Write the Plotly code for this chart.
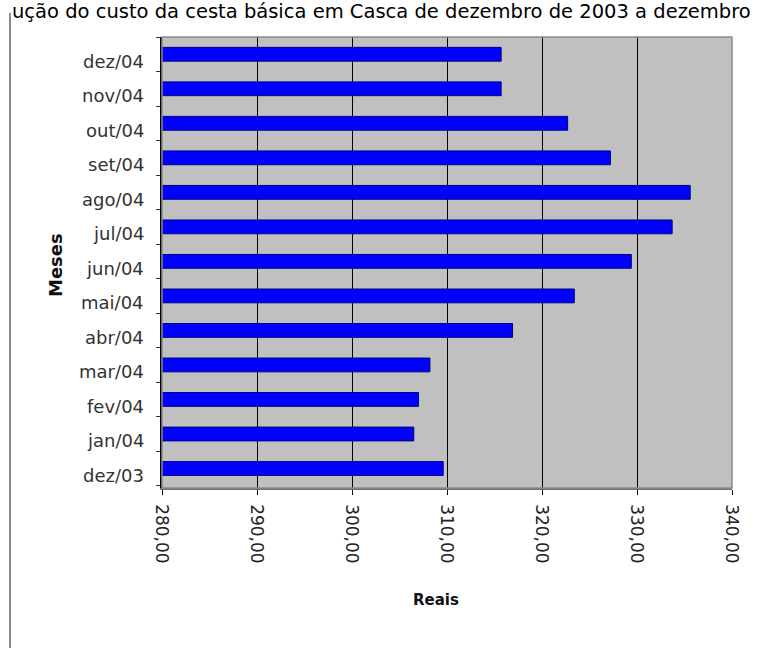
import plotly.graph_objects as go

# Monthly cost of the basic food basket (R$), Dec/2003 - Dec/2004
meses = ["dez/03", "jan/04", "fev/04", "mar/04", "abr/04", "mai/04", "jun/04",
         "jul/04", "ago/04", "set/04", "out/04", "nov/04", "dez/04"]
custo = [309.6, 306.5, 307.0, 308.2, 316.9, 323.4, 329.4,
         333.7, 335.6, 327.2, 322.7, 315.7, 315.7]
x_ticks = [280, 290, 300, 310, 320, 330, 340]
x_tick_text = ["280,00", "290,00", "300,00", "310,00", "320,00", "330,00", "340,00"]
titulo = "ução do custo da cesta básica em Casca de dezembro de 2003 a dezembro"

W, H = 769, 648
L, R, T, B = 162, 37, 37, 160
PW, PH = W - L - R, H - T - B


def px_x(px):
    return (px - L) / PW


def px_y(py):
    return (H - B - py) / PH


fig = go.Figure()
fig.add_trace(go.Bar(
    x=custo, y=meses, orientation="h",
    marker=dict(color="#0000FF", line=dict(color="#000080", width=1)),
    width=0.4, hoverinfo="x+y",
))

# month labels sit slightly below each bar
annotations = []
for m in meses:
    annotations.append(dict(
        x=px_x(146), xref="paper", y=m, yref="y", text=m, showarrow=False,
        xanchor="right", yanchor="middle", yshift=-7,
        font=dict(family="DejaVu Sans", size=18, color="#333333"),
    ))

annotations += [
    dict(text=titulo,
         x=px_x(381), xref="paper", y=px_y(11), yref="paper",
         showarrow=False, xanchor="center", yanchor="middle",
         font=dict(family="DejaVu Sans", size=19.5, color="#000000")),
    dict(text="<b>Meses</b>", textangle=-90, x=px_x(55), xref="paper",
         y=px_y(265), yref="paper", showarrow=False,
         xanchor="center", yanchor="middle",
         font=dict(family="DejaVu Sans", size=18, color="#111111")),
    dict(text="<b>Reais</b>", x=px_x(436), xref="paper",
         y=px_y(600), yref="paper", showarrow=False,
         xanchor="center", yanchor="middle",
         font=dict(family="DejaVu Sans", size=15, color="#111111")),
]

shapes = [
    # plot frame
    dict(type="rect", xref="paper", yref="paper", x0=0, x1=1, y0=0, y1=1,
         line=dict(color="#8a8a8a", width=1.5), layer="above"),
    # page border on the left
    dict(type="line", xref="paper", yref="paper",
         x0=px_x(10), x1=px_x(10), y0=px_y(H + 5), y1=px_y(13),
         line=dict(color="#8c8c8c", width=2)),
]

fig.update_layout(
    width=W, height=H,
    margin=dict(l=L, r=R, t=T, b=B),
    paper_bgcolor="#FFFFFF", plot_bgcolor="#C0C0C0",
    showlegend=False, bargap=0.6,
    annotations=annotations, shapes=shapes,
    xaxis=dict(
        range=[280, 340], tickvals=x_ticks, ticktext=x_tick_text, tickangle=90,
        showgrid=True, gridcolor="#000000", gridwidth=1,
        showline=True, linecolor="#707070", linewidth=1.5,
        ticks="outside", ticklen=5, tickcolor="#000000",
        ticklabelstandoff=6,
        tickfont=dict(family="DejaVu Sans", size=17, color="#222222"),
        zeroline=False, fixedrange=True,
    ),
    yaxis=dict(
        categoryorder="array", categoryarray=meses,
        showticklabels=False, tickson="boundaries",
        ticks="outside", ticklen=4, tickcolor="#333333",
        showgrid=False, showline=True, linecolor="#000000", linewidth=2,
        zeroline=False, fixedrange=True,
    ),
)

fig.write_html("out.html")
